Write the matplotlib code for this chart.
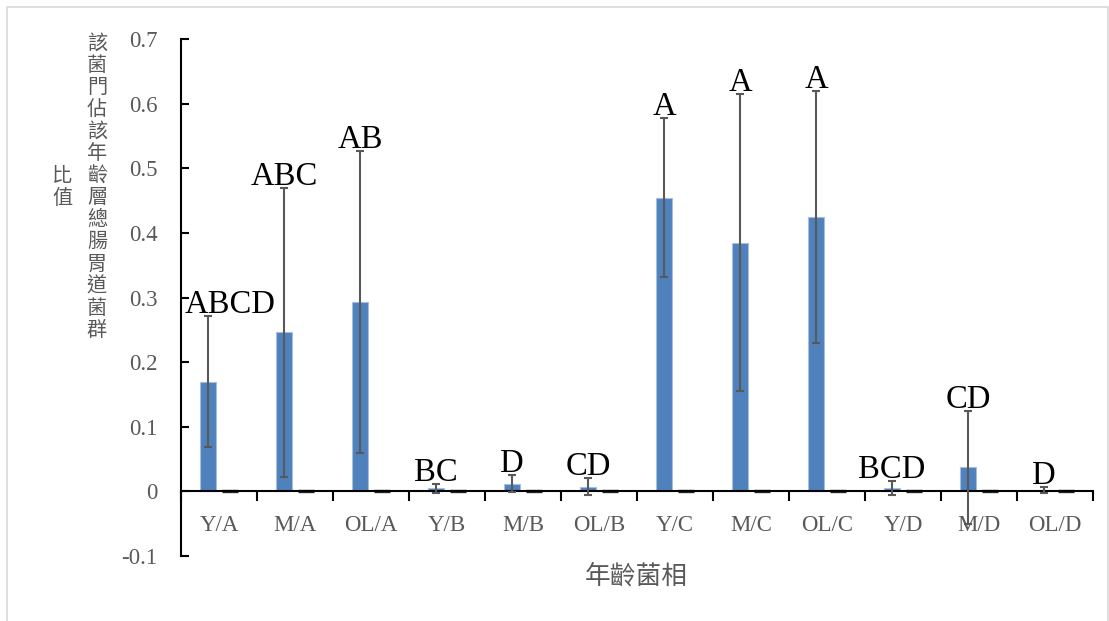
import matplotlib
matplotlib.use("Agg")
import matplotlib.pyplot as plt
from matplotlib.patches import Rectangle
import numpy as np

categories = ["Y/A", "M/A", "OL/A", "Y/B", "M/B", "OL/B",
              "Y/C", "M/C", "OL/C", "Y/D", "M/D", "OL/D"]
ratio_mean = [0.170, 0.246, 0.293, 0.005, 0.012, 0.007,
              0.454, 0.385, 0.424, 0.005, 0.037, 0.002]
ratio_err = [0.102, 0.223, 0.234, 0.007, 0.013, 0.013,
             0.123, 0.230, 0.195, 0.011, 0.088, 0.005]
series2 = [0.0] * 12
sig_letters = ["ABCD", "ABC", "AB", "BC", "D", "CD",
               "A", "A", "A", "BCD", "CD", "D"]
y_ticks = [-0.1, 0, 0.1, 0.2, 0.3, 0.4, 0.5, 0.6, 0.7]
y_title = "該菌門佔該年齡層總腸胃道菌群比值"
x_title = "年齡菌相"

W, H = 1109, 621
fig = plt.figure(figsize=(W / 100, H / 100), dpi=100)
fig.patches.append(Rectangle((7 / W, -0.05), (1108 - 7) / W, 1.05 - 7 / H,
                             transform=fig.transFigure, fill=False,
                             edgecolor="#d9d9d9", linewidth=1.2))

ax = fig.add_axes([181 / W, (H - 556) / H, (1093 - 181) / W, (556 - 39) / H])
x = np.arange(len(categories))
off = 0.145
bw = 0.22
ax.bar(x - off, ratio_mean, width=bw, color="#4F81BD",
       edgecolor="#a7bfdf", linewidth=0.8, zorder=2)
ax.bar(x + off, series2, width=bw, color="#262626",
       edgecolor="#262626", linewidth=2.4, zorder=2)
ax.errorbar(x - off, ratio_mean, yerr=ratio_err, fmt="none",
            ecolor="#595959", elinewidth=1.5, capsize=3.2, capthick=1.5,
            zorder=3)

for i, lab in enumerate(sig_letters):
    top = ratio_mean[i] + ratio_err[i]
    if i == 0:
        ax.annotate(lab, xy=(-0.5, top), xytext=(4, 3),
                    textcoords="offset pixels", ha="left", va="baseline",
                    fontsize=23.5, family="Liberation Serif", color="black")
    else:
        ax.annotate(lab, xy=(x[i] - off, top), xytext=(0, 3),
                    textcoords="offset pixels", ha="center", va="baseline",
                    fontsize=23.5, family="Liberation Serif", color="black")

ax.set_xlim(-0.5, len(categories) - 0.5)
ax.set_ylim(-0.1, 0.7)

for s in ["top", "right"]:
    ax.spines[s].set_visible(False)
ax.spines["bottom"].set_position(("data", 0))
for s in ["left", "bottom"]:
    ax.spines[s].set_linewidth(1.5)
    ax.spines[s].set_color("black")
    ax.spines[s].set_zorder(2.6)

ax.set_yticks(y_ticks)
ax.set_yticklabels(["0" if v == 0 else f"{v:g}" for v in y_ticks],
                   family="Liberation Serif", fontsize=16.5, color="#595959")
ax.tick_params(axis="y", direction="in", length=6, width=1.5,
               color="black", pad=17)

ax.set_xticks(x)
ax.set_xticklabels(categories, family="Liberation Serif", fontsize=16.5,
                   color="#595959")
ax.set_xticks(np.arange(len(categories) + 1) - 0.5, minor=True)
ax.tick_params(axis="x", which="major", length=0, pad=17)
ax.tick_params(axis="x", which="minor", direction="out", length=7,
               width=1.5, color="black")

cjk = ["Noto Sans CJK TC", "DejaVu Sans"]
col1 = y_title[:14]
col2 = y_title[14:]
for i, ch in enumerate(col1):
    fig.text(97 / W, 1 - (43 + 22.1 * i) / H, ch, family=cjk, fontsize=14.5,
             color="#595959", ha="center", va="center")
for i, ch in enumerate(col2):
    fig.text(62 / W, 1 - (176 + 22.1 * i) / H, ch, family=cjk, fontsize=14.5,
             color="#595959", ha="center", va="center")
fig.text(636 / W, 1 - 577 / H, x_title, family=cjk, fontsize=18.5,
         color="#595959", ha="center", va="center")

fig.savefig("out.png", dpi=100)
